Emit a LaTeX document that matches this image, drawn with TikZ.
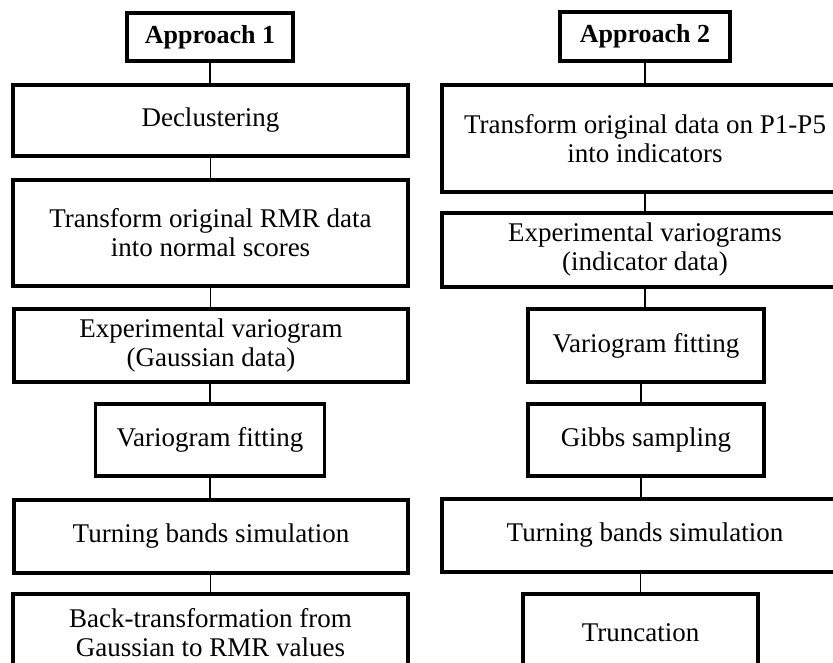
\documentclass[tikz,border=0pt]{standalone}
\usepackage{fontspec}
\setmainfont{Liberation Serif}
\begin{document}
\begin{tikzpicture}[x=1pt,y=-1pt,
  box/.style={draw, rectangle, line width=3.2pt, inner sep=0pt, align=center,
    font=\fontsize{27}{29}\selectfont},
  headbox/.style={box, font=\bfseries\fontsize{26}{30}\selectfont},
  link/.style={line width=1.4pt}]
\useasboundingbox (0,0) rectangle (833,663);
\fill[white] (0,0) rectangle (833,663);
\clip (0,0) rectangle (833,663);
% Left column
\node[headbox, minimum width=166, minimum height=48] (a1) at (210,37) {Approach 1};
\node[box, minimum width=395, minimum height=71] (l1) at (210.5,120.5) {Declustering};
\node[box, minimum width=395, minimum height=106] (l2) at (210.5,233) {Transform original RMR data\\into normal scores};
\node[box, minimum width=394, minimum height=73] (l3) at (211,345.5) {Experimental variogram\\(Gaussian data)};
\node[box, minimum width=229, minimum height=72] (l4) at (210,440) {Variogram fitting};
\node[box, minimum width=394, minimum height=73] (l5) at (211,536.5) {Turning bands simulation};
\node[box, minimum width=395, minimum height=78] (l6) at (210.5,633) {Back-transformation from\\Gaussian to RMR values};
% Right column
\node[headbox, minimum width=170, minimum height=49] (a2) at (645,36.5) {Approach 2};
\node[box, minimum width=406, minimum height=107] (r1) at (645,138.5) {Transform original data on P1-P5\\into indicators};
\node[box, minimum width=406, minimum height=74] (r2) at (645,250) {Experimental variograms\\(indicator data)};
\node[box, minimum width=236, minimum height=73] (r3) at (646,345.5) {Variogram fitting};
\node[box, minimum width=236, minimum height=72] (r4) at (646,440) {Gibbs sampling};
\node[box, minimum width=406, minimum height=73] (r5) at (645,535.5) {Turning bands simulation};
\node[box, minimum width=235, minimum height=78] (r6) at (640.5,633) {Truncation};
% Connectors
\draw[link] (a1.south) -- (a1.south |- l1.north);
\draw[link] (l1.south) -- (l1.south |- l2.north);
\draw[link] (l2.south) -- (l2.south |- l3.north);
\draw[link] (l4.north) -- (l4.north |- l3.south);
\draw[link] (l4.south) -- (l4.south |- l5.north);
\draw[link] (l6.north) -- (l6.north |- l5.south);
\draw[link] (a2.south) -- (a2.south |- r1.north);
\draw[link] (r1.south) -- (r1.south |- r2.north);
\draw[link] (r2.south) -- (r2.south |- r3.north);
\draw[link] ([xshift=-5pt]r3.south) -- ([xshift=-5pt]r3.south |- r4.north);
\draw[link] ([xshift=-5pt]r4.south) -- ([xshift=-5pt]r4.south |- r5.north);
\draw[link] (r6.north) -- (r6.north |- r5.south);
\end{tikzpicture}
\end{document}
